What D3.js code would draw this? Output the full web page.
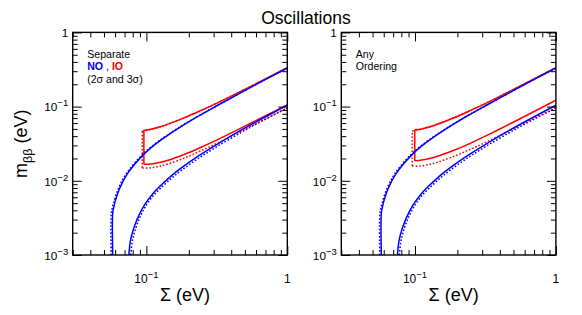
<!DOCTYPE html>
<html><head><meta charset="utf-8">
<script src="https://cdn.jsdelivr.net/npm/d3@7"></script>
<style>body{margin:0;background:#fff} text{font-family:"Liberation Sans",Arial,sans-serif}</style>
</head><body><svg id="c" width="582" height="315"></svg>
<script>
// ---- axes ----
const xDomain = [0.03, 1];
const yDomain = [0.001, 1];
const xMajor = [0.1, 1];
const yMajor = [0.001, 0.01, 0.1, 1];
const xTickLabels = [{v:0.1, b:"10", e:"\u22121"}, {v:1, b:"1", e:""}];
const yTickLabels = [{v:1, b:"1", e:""}, {v:0.1, b:"10", e:"\u22121"}, {v:0.01, b:"10", e:"\u22122"}, {v:0.001, b:"10", e:"\u22123"}];

// ---- NO (blue), [Sigma, m_bb] ----
const noMax2 = [[0.0577,0.001],[0.0577,0.0037],[0.0587,0.0044],[0.0599,0.0052],[0.0642,0.0077],[0.0730,0.0123],[0.0945,0.0222],[0.1185,0.0322],[0.1440,0.0420],[0.1705,0.0518],[0.2255,0.0715],[0.3115,0.1010],[0.6055,0.2005],[1.0,0.331]];
const noMax3 = [[0.0563,0.001],[0.0563,0.0036],[0.0573,0.0043],[0.0586,0.0051],[0.0630,0.0077],[0.0718,0.0124],[0.0933,0.0224],[0.1175,0.0324],[0.1432,0.0422],[0.1698,0.0520],[0.2250,0.0716],[0.3110,0.1011],[0.6050,0.2005],[1.0,0.331]];
const noMin2 = [[0.0751,0.001],[0.0768,0.0015],[0.0790,0.0019],[0.0826,0.0025],[0.0890,0.0035],[0.0975,0.0048],[0.1095,0.0065],[0.1220,0.0081],[0.1480,0.0114],[0.1750,0.0147],[0.2300,0.0212],[0.3150,0.0308],[0.4600,0.0470],[0.6070,0.0630],[1.0,0.1045]];
const noMin3 = [[0.0775,0.001],[0.0793,0.0015],[0.0816,0.0019],[0.0853,0.0025],[0.0918,0.0035],[0.1005,0.0048],[0.1128,0.0064],[0.1257,0.0079],[0.1522,0.0110],[0.1795,0.0141],[0.2350,0.0202],[0.3200,0.0292],[0.4650,0.0443],[0.6110,0.0592],[1.0,0.0955]];

// ---- IO (red), separate ordering ----
const ioSepUpper2 = [[0.096,0.0481],[0.1075,0.0496],[0.1235,0.0530],[0.1425,0.0580],[0.1870,0.0710],[0.2380,0.0868],[0.3200,0.1125],[0.6100,0.2065],[1.0,0.334]];
const ioSepLower2 = [[0.096,0.0167],[0.1080,0.0168],[0.1235,0.0176],[0.1425,0.0189],[0.1870,0.0228],[0.2380,0.0277],[0.3200,0.0359],[0.6100,0.0660],[1.0,0.105]];
const ioSepUpper3 = [[0.0935,0.0466],[0.1055,0.0486],[0.1220,0.0525],[0.1415,0.0577],[0.1865,0.0709],[0.2375,0.0867],[0.3195,0.1124],[0.6095,0.2064],[1.0,0.334]];
const ioSepLower3 = [[0.0935,0.0149],[0.1058,0.0149],[0.1225,0.0156],[0.1418,0.0168],[0.1862,0.0203],[0.2372,0.0248],[0.3192,0.0322],[0.6092,0.0596],[1.0,0.0965]];

// ---- IO (red), any ordering ----
const ioAnyUpper2 = [[0.0997,0.0488],[0.1117,0.0500],[0.1275,0.0534],[0.1464,0.0583],[0.1912,0.0712],[0.2419,0.0868],[0.3235,0.1125],[0.6122,0.2066],[1.0,0.335]];
const ioAnyLower2 = [[0.0997,0.0186],[0.1117,0.0191],[0.1275,0.0200],[0.1464,0.0216],[0.1912,0.0260],[0.2419,0.0315],[0.3235,0.0409],[0.6122,0.0753],[1.0,0.1224]];
const ioAnyUpper3 = [[0.0955,0.0470],[0.1075,0.0490],[0.1240,0.0527],[0.1432,0.0578],[0.1880,0.0710],[0.2390,0.0867],[0.3210,0.1124],[0.6100,0.2064],[1.0,0.334]];
const ioAnyLower3 = [[0.0955,0.0158],[0.1075,0.0158],[0.1245,0.0165],[0.1435,0.0177],[0.1880,0.0213],[0.2390,0.0258],[0.3210,0.0333],[0.6100,0.0610],[1.0,0.0975]];

// ---- texts ----
const title = "Oscillations";
const xTitle = "\u03A3 (eV)";
const noteSep = [[{t:"Separate"}],[{t:"NO",c:"blue",b:1},{t:" , "},{t:"IO",c:"red",b:1}],[{t:"(2\u03C3 and 3\u03C3)"}]];
const noteAny = [[{t:"Any"}],[{t:"Ordering"}]];

const BLUE = "#0000ff", RED = "#ff0000";
const panels = [
  {x0:72.7, note:noteSep, io:[ioSepUpper2, ioSepLower2, ioSepUpper3, ioSepLower3]},
  {x0:341.3, note:noteAny, io:[ioAnyUpper2, ioAnyLower2, ioAnyUpper3, ioAnyLower3]}
];

const svg = d3.select("#c");
const W = 214.6, Y0 = 32.4, Y1 = 255;
const yS = d3.scaleLog().domain(yDomain).range([Y1, Y0]);
const isMaj = (arr, v) => arr.some(m => Math.abs(m - v) / m < 1e-6);
const yMinor = yS.ticks().filter(v => !isMaj(yMajor, v));

svg.append("text").attr("x", 306).attr("y", 23.5).attr("text-anchor", "middle")
  .attr("font-size", 17.5).text(title);

// y title
const yt = svg.append("text").attr("transform", "translate(27,143.7) rotate(-90)")
  .attr("text-anchor", "middle").attr("font-size", 18);
yt.append("tspan").text("m");
yt.append("tspan").attr("font-size", 12.5).attr("dy", 5).text("\u03B2\u03B2");
yt.append("tspan").attr("dy", -5).text(" (eV)");

panels.forEach((p, i) => {
  const xS = d3.scaleLog().domain(xDomain).range([p.x0, p.x0 + W]);
  const xMinor = xS.ticks().filter(v => !isMaj(xMajor, v));
  const g = svg.append("g");
  const cid = "clip" + i;
  svg.append("clipPath").attr("id", cid).append("rect")
    .attr("x", p.x0).attr("y", Y0).attr("width", W).attr("height", Y1 - Y0);

  const line = d3.line().x(d => xS(d[0])).y(d => yS(d[1])).curve(d3.curveCatmullRom.alpha(0.5));
  const seg = d3.line().x(d => xS(d[0])).y(d => yS(d[1]));
  const cg = g.append("g").attr("clip-path", `url(#${cid})`).attr("fill", "none");
  const dot = "1.6,1.9", SW = 1.5;
  // dotted (3 sigma)
  [noMax3, noMin3].forEach(a => cg.append("path").attr("d", line(a)).attr("stroke", BLUE).attr("stroke-width", SW).attr("stroke-dasharray", dot));
  const [u2, l2, u3, l3] = p.io;
  [u3, l3].forEach(a => cg.append("path").attr("d", line(a)).attr("stroke", RED).attr("stroke-width", SW).attr("stroke-dasharray", dot));
  cg.append("path").attr("d", seg([l3[0], u3[0]])).attr("stroke", RED).attr("stroke-width", SW).attr("stroke-dasharray", dot);
  // solid (2 sigma)
  [u2, l2].forEach(a => cg.append("path").attr("d", line(a)).attr("stroke", RED).attr("stroke-width", SW));
  cg.append("path").attr("d", seg([l2[0], u2[0]])).attr("stroke", RED).attr("stroke-width", SW);
  [noMax2, noMin2].forEach(a => cg.append("path").attr("d", line(a)).attr("stroke", BLUE).attr("stroke-width", SW));

  // ticks
  const ax = (gen, tr, vals, size) => {
    const a = g.append("g").attr("transform", tr).call(gen.tickValues(vals).tickSize(size).tickFormat(""));
    a.select(".domain").remove();
    a.selectAll("line").attr("stroke", "#000").attr("stroke-width", 1);
  };
  ax(d3.axisBottom(xS), `translate(0,${Y1})`, xMinor, -5);
  ax(d3.axisBottom(xS), `translate(0,${Y1})`, xMajor, -9);
  ax(d3.axisTop(xS), `translate(0,${Y0})`, xMinor, -5);
  ax(d3.axisTop(xS), `translate(0,${Y0})`, xMajor, -9);
  ax(d3.axisLeft(yS), `translate(${p.x0},0)`, yMinor, -5);
  ax(d3.axisLeft(yS), `translate(${p.x0},0)`, yMajor, -9);
  ax(d3.axisRight(yS), `translate(${p.x0 + W},0)`, yMinor, -5);
  ax(d3.axisRight(yS), `translate(${p.x0 + W},0)`, yMajor, -9);

  g.append("rect").attr("x", p.x0).attr("y", Y0).attr("width", W).attr("height", Y1 - Y0)
    .attr("fill", "none").attr("stroke", "#000").attr("stroke-width", 1.4);

  // tick labels
  yTickLabels.forEach(l => {
    const t = g.append("text").attr("x", p.x0 - 4.5).attr("y", yS(l.v) + 4.8)
      .attr("text-anchor", "end").attr("font-size", 11.8);
    t.append("tspan").text(l.b);
    if (l.e) t.append("tspan").attr("font-size", 9.5).attr("dy", -5).text(l.e);
  });
  xTickLabels.forEach(l => {
    const t = g.append("text").attr("x", xS(l.v)).attr("y", 283.3)
      .attr("text-anchor", "middle").attr("font-size", 12);
    t.append("tspan").text(l.b);
    if (l.e) t.append("tspan").attr("font-size", 9.5).attr("dy", -5).text(l.e);
  });
  g.append("text").attr("x", p.x0 + W / 2 + 5).attr("y", 301).attr("text-anchor", "middle")
    .attr("font-size", 18).text(xTitle);

  // note
  p.note.forEach((ln, k) => {
    const t = g.append("text").attr("x", p.x0 + 14.5).attr("y", 58.3 + 12.1 * k).attr("font-size", 10.6);
    ln.forEach(s => {
      const ts = t.append("tspan").text(s.t);
      if (s.c) ts.attr("fill", s.c === "blue" ? BLUE : RED);
      if (s.b) ts.attr("font-weight", "bold");
    });
  });
});
</script></body></html>
